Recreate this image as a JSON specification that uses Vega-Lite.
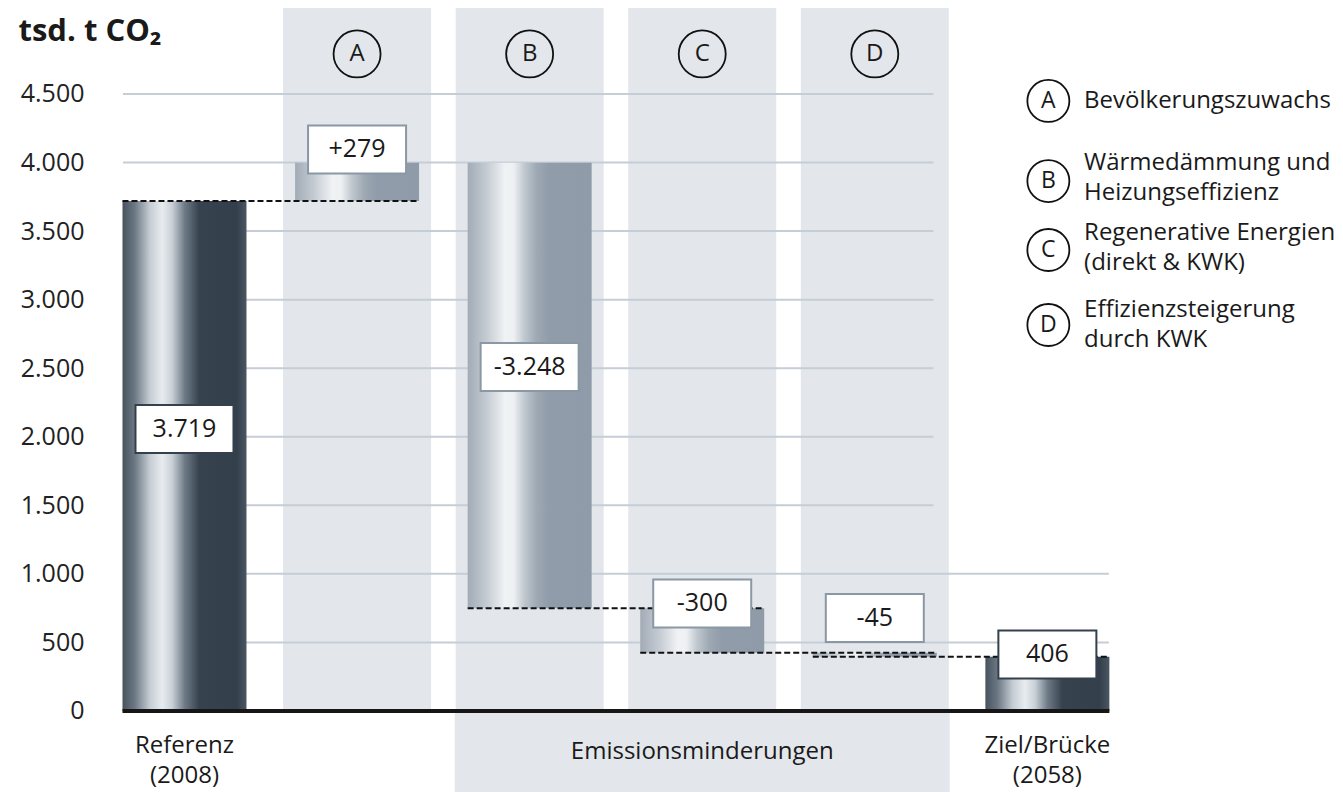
{
  "$schema": "https://vega.github.io/schema/vega-lite/v6.json",
  "width": 1225,
  "height": 784,
  "autosize": "none",
  "padding": {"left": 118, "top": 8, "right": 0, "bottom": 0},
  "background": "white",
  "config": {"view": {"stroke": null}, "font": "Open Sans", "text": {"font": "Open Sans"}},
  "datasets": {
    "bars": [
      {"name": "Referenz", "slot": 0, "start": 0, "end": 3719, "tone": "dark"},
      {"name": "A", "slot": 1, "start": 3719, "end": 3998, "tone": "light"},
      {"name": "B", "slot": 2, "start": 3998, "end": 750, "tone": "light"},
      {"name": "C", "slot": 3, "start": 750, "end": 425, "tone": "light"},
      {"name": "D", "slot": 4, "start": 425, "end": 395, "tone": "light"},
      {"name": "Ziel", "slot": 5, "start": 0, "end": 395, "tone": "dark"}
    ],
    "labels": [
      {"slot": 0, "pos": 2057, "text": "3.719", "tone": "dark"},
      {"slot": 1, "pos": 4095, "text": "+279", "tone": "light"},
      {"slot": 2, "pos": 2509, "text": "-3.248", "tone": "light"},
      {"slot": 3, "pos": 784, "text": "-300", "tone": "light"},
      {"slot": 4, "pos": 678, "text": "-45", "tone": "light"},
      {"slot": 5, "pos": 412, "text": "406", "tone": "dark"}
    ],
    "columns": [
      {"slot": 1, "letter": "A", "lo": 0, "hi": 5127, "ring": 4792},
      {"slot": 2, "letter": "B", "lo": 0, "hi": 5127, "ring": 4792},
      {"slot": 3, "letter": "C", "lo": 0, "hi": 5127, "ring": 4792},
      {"slot": 4, "letter": "D", "lo": 0, "hi": 5127, "ring": 4792}
    ],
    "band": [
      {"slot": 3, "lo": -591, "hi": 0}
    ],
    "connectors": [
      {"from": 0, "to": 1, "level": 3719},
      {"from": 2, "to": 3, "level": 750},
      {"from": 3, "to": 4, "level": 425},
      {"from": 4, "to": 5, "level": 395}
    ],
    "baseline": [
      {"from": 0, "to": 5, "level": 0}
    ],
    "grid": [
      {"v": 500, "left": -0.3563, "reach": 5.356},
      {"v": 1000, "left": -0.3563, "reach": 5.356},
      {"v": 1500, "left": -0.3563, "reach": 4.34},
      {"v": 2000, "left": -0.3563, "reach": 4.34},
      {"v": 2500, "left": -0.3563, "reach": 4.34},
      {"v": 3000, "left": -0.3563, "reach": 4.34},
      {"v": 3500, "left": -0.3563, "reach": 4.34},
      {"v": 4000, "left": -0.3563, "reach": 4.34},
      {"v": 4500, "left": -0.3563, "reach": 4.34}
    ],
    "legend": [
      {"letter": "A", "desc": "Bevölkerungszuwachs", "pos": 4449, "line1": 4449, "cx": 5.0057, "tx": 5.2126},
      {"letter": "B", "desc": "Wärmedämmung und\nHeizungseffizienz", "pos": 3865, "line1": 3997, "cx": 5.0057, "tx": 5.2126},
      {"letter": "C", "desc": "Regenerative Energien\n(direkt & KWK)", "pos": 3362, "line1": 3486, "cx": 5.0057, "tx": 5.2126},
      {"letter": "D", "desc": "Effizienzsteigerung\ndurch KWK", "pos": 2815, "line1": 2925, "cx": 5.0057, "tx": 5.2126}
    ],
    "xlabels": [
      {"slot": 0, "text": "Referenz\n(2008)", "pos": -259},
      {"slot": 3, "text": "Emissionsminderungen", "pos": -299},
      {"slot": 5, "text": "Ziel/Brücke\n(2058)", "pos": -259}
    ]
  },
  "layer": [
    {
      "data": {"name": "columns"},
      "mark": {"type": "bar", "width": 148, "fill": "#e3e7eb"},
      "encoding": {
        "x": {"field": "slot", "type": "quantitative", "scale": {"domain": [-0.3563, 6.684], "nice": false, "zero": false}, "axis": null},
        "y": {"field": "lo", "type": "quantitative", "scale": {"domain": [-591, 5127], "nice": false, "zero": false},
          "axis": {
            "values": [0, 500, 1000, 1500, 2000, 2500, 3000, 3500, 4000, 4500],
            "labelExpr": "replace(format(datum.value, ','), ',', '.')",
            "grid": false, "ticks": false, "domain": false,
            "labelFontSize": 25, "labelColor": "#222222", "labelPadding": 34, "labelFont": "Open Sans",
            "title": "tsd. t CO₂", "titleAngle": 0, "titleX": -100, "titleY": 23,
            "titleAlign": "left", "titleBaseline": "middle", "titleFontSize": 31,
            "titleFontWeight": "bold", "titleColor": "#1a1a1a", "titleFont": "Open Sans"
          }},
        "y2": {"field": "hi"}
      }
    },
    {
      "data": {"name": "band"},
      "mark": {"type": "bar", "width": 495, "fill": "#e3e7eb"},
      "encoding": {
        "x": {"field": "slot", "type": "quantitative"},
        "y": {"field": "lo", "type": "quantitative"},
        "y2": {"field": "hi"}
      }
    },
    {
      "data": {"name": "grid"},
      "mark": {"type": "rule", "stroke": "#c5cdd6", "strokeWidth": 2},
      "encoding": {
        "x": {"field": "left", "type": "quantitative"},
        "x2": {"field": "reach"},
        "y": {"field": "v", "type": "quantitative"}
      }
    },
    {
      "data": {"name": "bars"},
      "transform": [{"filter": "datum.tone === 'light'"}],
      "mark": {"type": "bar", "width": 124, "fill": {"gradient": "linear", "x1": 0, "y1": 0, "x2": 1, "y2": 0, "stops": [
        {"offset": 0, "color": "#a2acb6"},
        {"offset": 0.15, "color": "#c3cad2"},
        {"offset": 0.3, "color": "#f0f2f4"},
        {"offset": 0.37, "color": "#eef1f3"},
        {"offset": 0.46, "color": "#bfc7ce"},
        {"offset": 0.56, "color": "#9da8b3"},
        {"offset": 0.66, "color": "#909ca9"},
        {"offset": 1, "color": "#8f9ba8"}
      ]}},
      "encoding": {
        "x": {"field": "slot", "type": "quantitative"},
        "y": {"field": "start", "type": "quantitative"},
        "y2": {"field": "end"}
      }
    },
    {
      "data": {"name": "bars"},
      "transform": [{"filter": "datum.tone === 'dark'"}],
      "mark": {"type": "bar", "width": 124, "fill": {"gradient": "linear", "x1": 0, "y1": 0, "x2": 1, "y2": 0, "stops": [
        {"offset": 0, "color": "#46535f"},
        {"offset": 0.1, "color": "#6c7985"},
        {"offset": 0.22, "color": "#c5ccd3"},
        {"offset": 0.32, "color": "#e8ecef"},
        {"offset": 0.4, "color": "#c9d0d6"},
        {"offset": 0.5, "color": "#6f7c88"},
        {"offset": 0.62, "color": "#36424e"},
        {"offset": 0.92, "color": "#33404b"},
        {"offset": 1, "color": "#4a5763"}
      ]}},
      "encoding": {
        "x": {"field": "slot", "type": "quantitative"},
        "y": {"field": "start", "type": "quantitative"},
        "y2": {"field": "end"}
      }
    },
    {
      "data": {"name": "connectors"},
      "mark": {"type": "rule", "stroke": "#111111", "strokeWidth": 2, "strokeDash": [6, 3], "xOffset": -62, "x2Offset": 62},
      "encoding": {
        "x": {"field": "from", "type": "quantitative"},
        "x2": {"field": "to"},
        "y": {"field": "level", "type": "quantitative"}
      }
    },
    {
      "data": {"name": "baseline"},
      "mark": {"type": "rule", "stroke": "#161616", "strokeWidth": 4, "xOffset": -62, "x2Offset": 62},
      "encoding": {
        "x": {"field": "from", "type": "quantitative"},
        "x2": {"field": "to"},
        "y": {"field": "level", "type": "quantitative"}
      }
    },
    {
      "data": {"name": "labels"},
      "mark": {"type": "point", "shape": "M-1,-0.49H1V0.49H-1Z", "size": 9604, "filled": true, "fill": "white", "strokeWidth": 2, "opacity": 1},
      "encoding": {
        "x": {"field": "slot", "type": "quantitative"},
        "y": {"field": "pos", "type": "quantitative"},
        "stroke": {"field": "tone", "type": "nominal", "scale": {"domain": ["dark", "light"], "range": ["#34404c", "#8a97a4"]}, "legend": null}
      }
    },
    {
      "data": {"name": "labels"},
      "mark": {"type": "text", "fontSize": 25, "color": "#1a1a1a", "align": "center", "baseline": "middle"},
      "encoding": {
        "x": {"field": "slot", "type": "quantitative"},
        "y": {"field": "pos", "type": "quantitative"},
        "text": {"field": "text", "type": "nominal"}
      }
    },
    {
      "data": {"name": "columns"},
      "mark": {"type": "point", "shape": "circle", "size": 2209, "filled": false, "stroke": "#111111", "strokeWidth": 1.8, "opacity": 1},
      "encoding": {
        "x": {"field": "slot", "type": "quantitative"},
        "y": {"field": "ring", "type": "quantitative"}
      }
    },
    {
      "data": {"name": "columns"},
      "mark": {"type": "text", "fontSize": 24, "color": "#1a1a1a", "align": "center", "baseline": "middle"},
      "encoding": {
        "x": {"field": "slot", "type": "quantitative"},
        "y": {"field": "ring", "type": "quantitative"},
        "text": {"field": "letter", "type": "nominal"}
      }
    },
    {
      "data": {"name": "legend"},
      "mark": {"type": "point", "shape": "circle", "size": 1764, "filled": false, "stroke": "#111111", "strokeWidth": 1.8, "opacity": 1},
      "encoding": {
        "x": {"field": "cx", "type": "quantitative"},
        "y": {"field": "pos", "type": "quantitative"}
      }
    },
    {
      "data": {"name": "legend"},
      "mark": {"type": "text", "fontSize": 23, "color": "#1a1a1a", "align": "center", "baseline": "middle"},
      "encoding": {
        "x": {"field": "cx", "type": "quantitative"},
        "y": {"field": "pos", "type": "quantitative"},
        "text": {"field": "letter", "type": "nominal"}
      }
    },
    {
      "data": {"name": "legend"},
      "mark": {"type": "text", "fontSize": 24, "color": "#1a1a1a", "align": "left", "baseline": "middle", "lineBreak": "\n", "lineHeight": 30},
      "encoding": {
        "x": {"field": "tx", "type": "quantitative"},
        "y": {"field": "line1", "type": "quantitative"},
        "text": {"field": "desc", "type": "nominal"}
      }
    },
    {
      "data": {"name": "xlabels"},
      "mark": {"type": "text", "fontSize": 24, "color": "#1a1a1a", "align": "center", "baseline": "middle", "lineBreak": "\n", "lineHeight": 30},
      "encoding": {
        "x": {"field": "slot", "type": "quantitative"},
        "y": {"field": "pos", "type": "quantitative"},
        "text": {"field": "text", "type": "nominal"}
      }
    }
  ]
}
